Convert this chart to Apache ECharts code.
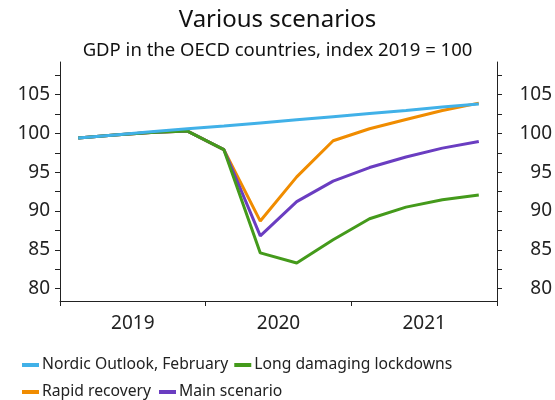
<!DOCTYPE html>
<html>
<head>
<meta charset="utf-8">
<script src="https://cdn.jsdelivr.net/npm/echarts@6/dist/echarts.min.js"></script>
<style>
  html, body { margin: 0; padding: 0; background: #fff; }
  #chart { width: 555px; height: 400px; }
</style>
</head>
<body>
<div id="chart"></div>
<script>
// Years shown on the axis and the quarters the series are plotted on
var years = ['2019', '2020', '2021'];
var quarters = ['2019Q1', '2019Q2', '2019Q3', '2019Q4',
                '2020Q1', '2020Q2', '2020Q3', '2020Q4',
                '2021Q1', '2021Q2', '2021Q3', '2021Q4'];

// GDP index, 2019 = 100
var nordicFebruary = [99.4, 99.8, 100.2, 100.6, 100.95, 101.35, 101.75, 102.15, 102.55, 102.95, 103.4, 103.8];
var longLockdowns  = [99.4, 99.8, 100.1, 100.3, 97.9, 84.6, 83.3, 86.3, 89.0, 90.5, 91.45, 92.05];
var rapidRecovery  = [99.4, 99.8, 100.1, 100.3, 97.9, 88.7, 94.4, 99.05, 100.6, 101.8, 102.95, 103.9];
var mainScenario   = [99.4, 99.8, 100.1, 100.3, 97.9, 86.8, 91.2, 93.85, 95.6, 96.95, 98.1, 98.95];

// Labelled and minor tick positions on the value axes
var yLabels = [80, 85, 90, 95, 100, 105];
var yTicks = [80, 82.5, 85, 87.5, 90, 92.5, 95, 97.5, 100, 102.5, 105, 107.5];

var FONT = 'Noto Sans';
var colors = {
  blue: '#41b1e8',
  green: '#449a1b',
  orange: '#f08c00',
  purple: '#6a3dc1'
};

var chart = echarts.init(document.getElementById('chart'), null, { renderer: 'canvas' });

function yAxis(position) {
  var right = position === 'right';
  return {
    type: 'value',
    position: position,
    min: 78.4,
    max: 109.2,
    splitLine: { show: false },
    axisLine: { show: true, lineStyle: { color: '#222', width: 1 } },
    axisTick: { show: true, length: 5, customValues: yTicks, lineStyle: { color: '#222' } },
    axisLabel: {
      show: true,
      customValues: yLabels,
      margin: right ? 55 : 10,
      align: 'right',
      fontFamily: FONT,
      fontSize: 19,
      color: '#222'
    }
  };
}

chart.setOption({
  animation: false,
  backgroundColor: '#fff',
  title: [
    {
      text: 'Various scenarios',
      left: 'center',
      top: 3,
      textStyle: { fontFamily: FONT, fontSize: 24, fontWeight: 'normal', color: '#111' }
    },
    {
      text: 'GDP in the OECD countries, index 2019 = 100',
      left: 'center',
      top: 36,
      textStyle: { fontFamily: FONT, fontSize: 18.5, fontWeight: 'normal', color: '#111' }
    }
  ],
  grid: { left: 60, right: 49, top: 62, bottom: 99, containLabel: false },
  xAxis: [
    {
      type: 'category',
      data: years,
      position: 'bottom',
      boundaryGap: true,
      axisLine: { show: true, lineStyle: { color: '#222', width: 1 } },
      axisTick: { show: true, length: 5, lineStyle: { color: '#222' } },
      axisLabel: { fontFamily: FONT, fontSize: 19, color: '#222', margin: 13 },
      splitLine: { show: false }
    },
    {
      type: 'category',
      data: quarters,
      position: 'bottom',
      boundaryGap: true,
      show: false
    }
  ],
  yAxis: [yAxis('left'), yAxis('right')],
  legend: [
    {
      data: ['Nordic Outlook, February', 'Long damaging lockdowns'],
      left: 17,
      top: 352,
      icon: 'rect',
      itemWidth: 17,
      itemHeight: 4,
      itemGap: 6,
      textStyle: { fontFamily: FONT, fontSize: 15.7, color: '#222', padding: [0, 0, 0, -2] }
    },
    {
      data: ['Rapid recovery', 'Main scenario'],
      left: 17,
      top: 379,
      icon: 'rect',
      itemWidth: 17,
      itemHeight: 4,
      itemGap: 8,
      textStyle: { fontFamily: FONT, fontSize: 15.7, color: '#222', padding: [0, 0, 0, -2] }
    }
  ],
  series: [
    {
      name: 'Rapid recovery',
      type: 'line',
      xAxisIndex: 1,
      data: rapidRecovery,
      color: colors.orange,
      symbol: 'none',
      lineStyle: { width: 3, color: colors.orange }
    },
    {
      name: 'Main scenario',
      type: 'line',
      xAxisIndex: 1,
      data: mainScenario,
      color: colors.purple,
      symbol: 'none',
      lineStyle: { width: 3, color: colors.purple }
    },
    {
      name: 'Long damaging lockdowns',
      type: 'line',
      xAxisIndex: 1,
      data: longLockdowns,
      color: colors.green,
      symbol: 'none',
      lineStyle: { width: 3, color: colors.green }
    },
    {
      name: 'Nordic Outlook, February',
      type: 'line',
      xAxisIndex: 1,
      data: nordicFebruary,
      color: colors.blue,
      symbol: 'none',
      lineStyle: { width: 3, color: colors.blue }
    }
  ]
});
</script>
</body>
</html>
